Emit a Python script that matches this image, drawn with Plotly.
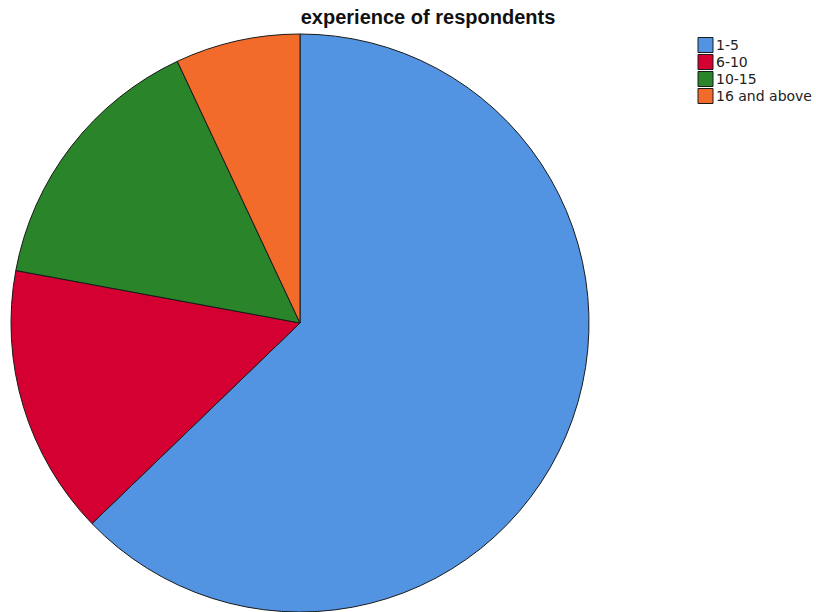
import plotly.graph_objects as go

# Years of experience groups and respondent counts
categories = ["1-5", "6-10", "10-15", "16 and above"]
counts = [54, 13, 13, 6]
colors = ["#5294E2", "#D50032", "#2A842A", "#F26B2A"]

W, H = 816, 612

fig = go.Figure(
    go.Pie(
        labels=categories,
        values=counts,
        sort=False,
        direction="clockwise",
        rotation=0,
        textinfo="none",
        hoverinfo="label+value+percent",
        marker=dict(colors=colors, line=dict(color="#1a1a1a", width=1)),
        domain=dict(x=[11 / W, 589 / W], y=[0, 1 - 34 / H]),
        showlegend=False,
    )
)

# Legend drawn as swatches + labels in pixel-based paper coordinates
sw_left, sw_size, first_center, step = 698, 15, 45, 17
shapes, annotations = [], []
for i, (lab, col) in enumerate(zip(categories, colors)):
    cy = first_center + i * step
    shapes.append(dict(
        type="rect", xref="paper", yref="paper",
        x0=sw_left / W, x1=(sw_left + sw_size) / W,
        y0=1 - (cy + sw_size / 2) / H, y1=1 - (cy - sw_size / 2) / H,
        fillcolor=col, line=dict(color="#1a1a1a", width=1),
    ))
    annotations.append(dict(
        text=lab, xref="paper", yref="paper",
        x=(sw_left + sw_size + 1) / W, y=1 - cy / H,
        xanchor="left", yanchor="middle", showarrow=False,
        font=dict(family="DejaVu Sans, Verdana, sans-serif", size=14, color="#222"),
    ))

fig.update_layout(
    width=W,
    height=H,
    margin=dict(l=0, r=0, t=0, b=0),
    paper_bgcolor="white",
    plot_bgcolor="white",
    shapes=shapes,
    annotations=annotations,
    title=dict(
        text="<b>experience of respondents</b>",
        x=428 / W,
        xanchor="center",
        y=1 - 17 / H,
        yanchor="middle",
        font=dict(family="Liberation Sans, Arial, sans-serif", size=20, color="#111"),
    ),
)

fig.write_html("out.html")
